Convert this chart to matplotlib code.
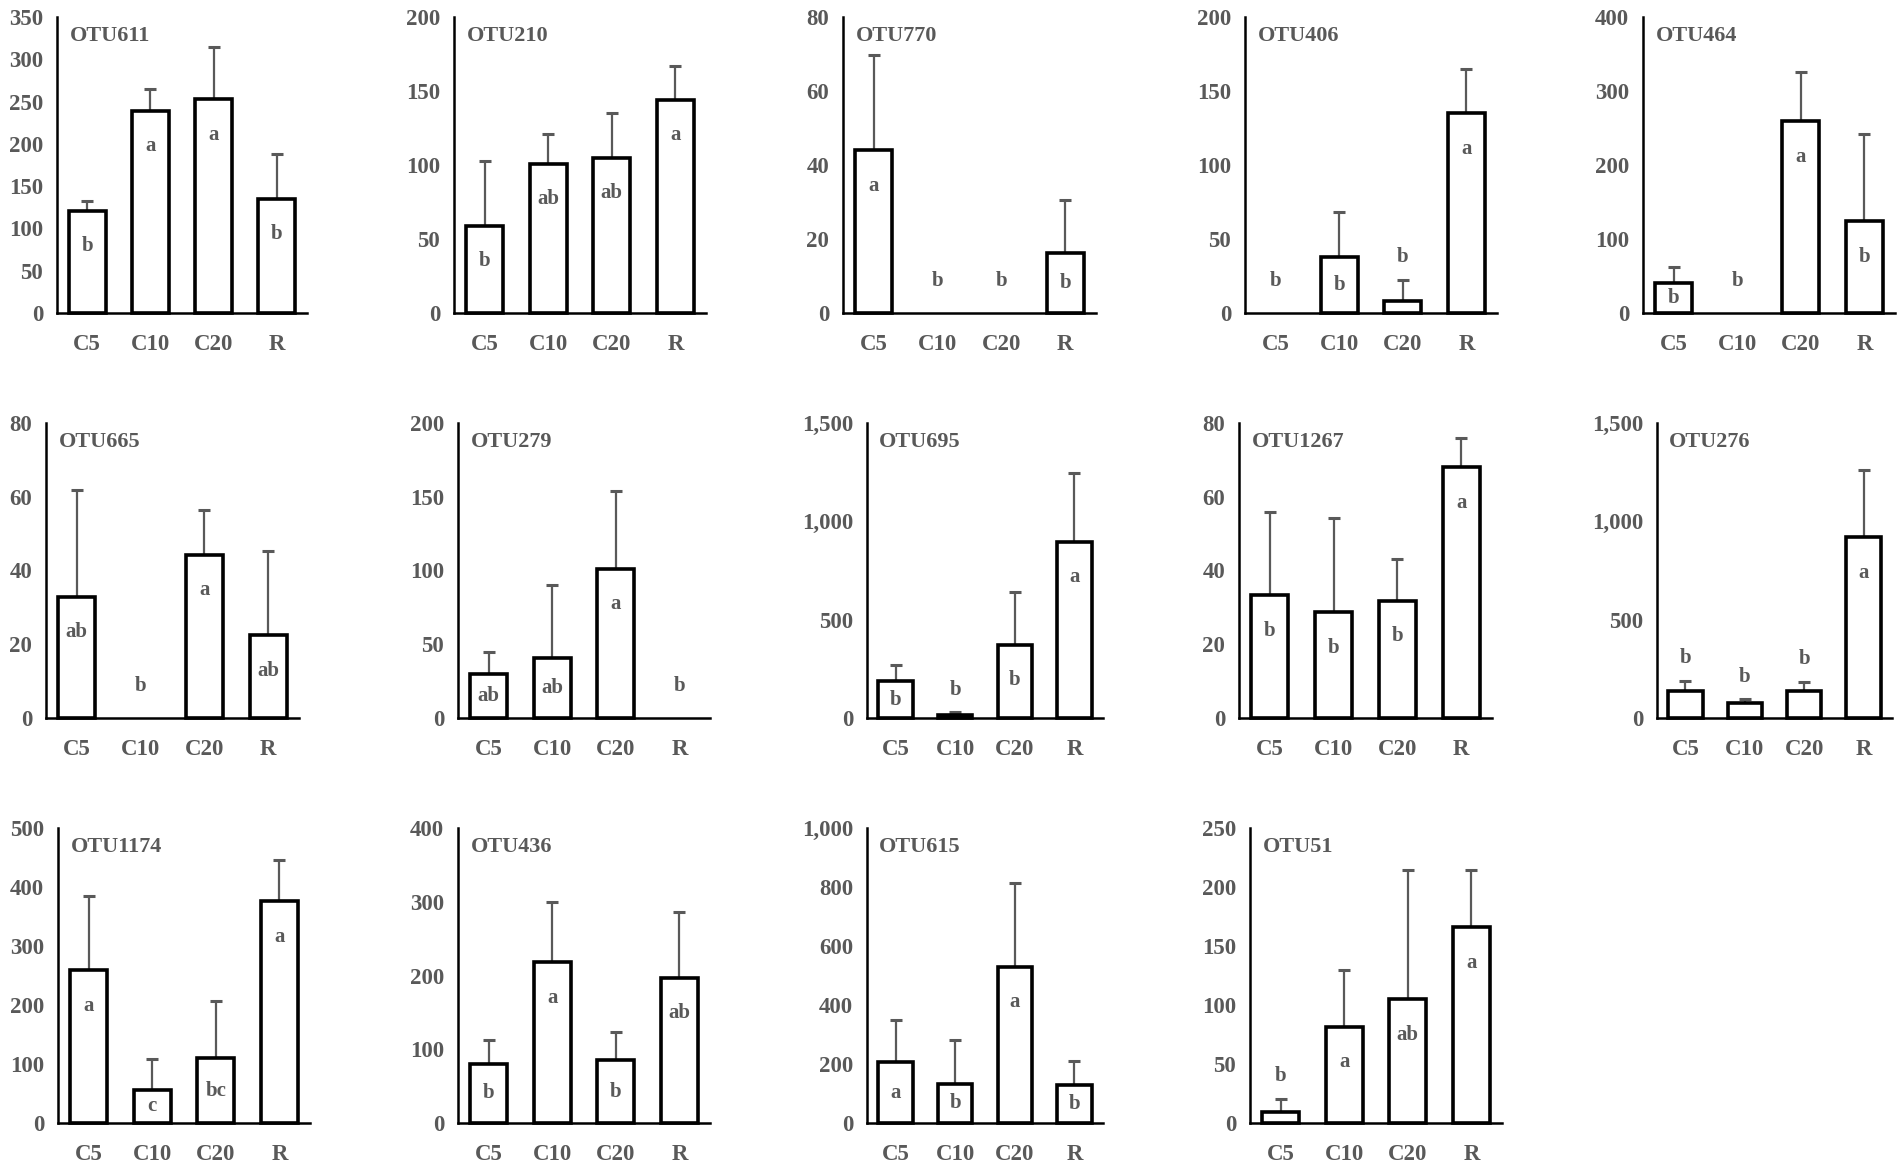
import matplotlib.pyplot as plt
from matplotlib.ticker import MultipleLocator, FuncFormatter

plt.rcParams['font.family'] = ['Liberation Serif', 'DejaVu Serif']
plt.rcParams['font.weight'] = 'bold'

# groups on the x axis
groups = ['C5', 'C10', 'C20', 'R']

# one entry per panel
otu_names = ['OTU611', 'OTU210', 'OTU770', 'OTU406', 'OTU464',
             'OTU665', 'OTU279', 'OTU695', 'OTU1267', 'OTU276',
             'OTU1174', 'OTU436', 'OTU615', 'OTU51']

means = [
    [121, 239, 253, 135],
    [59, 101, 105, 144],
    [44, 0, 0, 16.2],
    [0, 37.8, 7.9, 135],
    [40, 0, 259, 124],
    [32.8, 0, 44.2, 22.4],
    [29.8, 40.5, 101, 0],
    [186, 17, 373, 895],
    [33.3, 28.7, 31.8, 68],
    [139, 76, 136, 919],
    [259, 56.4, 110, 376],
    [80.3, 218, 84.8, 197],
    [206, 133, 530, 128.5],
    [9, 81.7, 105, 166],
]

# upper error (SD) added on top of the mean
errors = [
    [11.5, 25.5, 61.5, 53],
    [44, 20, 30, 23],
    [25.6, 0, 0, 14.4],
    [0, 30.4, 14.6, 30],
    [22, 0, 67, 118],
    [29, 0, 12.1, 23],
    [14.7, 49.5, 52.6, 0],
    [84, 13, 268, 353],
    [22.5, 25.5, 11.4, 7.8],
    [51, 22, 49, 340],
    [125, 51.6, 96, 70],
    [32.4, 82, 39.2, 88.5],
    [142, 150, 283, 81.5],
    [11.6, 47.7, 109.5, 48],
]

letters = [
    ['b', 'a', 'a', 'b'],
    ['b', 'ab', 'ab', 'a'],
    ['a', 'b', 'b', 'b'],
    ['b', 'b', 'b', 'a'],
    ['b', 'b', 'a', 'b'],
    ['ab', 'b', 'a', 'ab'],
    ['ab', 'ab', 'a', 'b'],
    ['b', 'b', 'b', 'a'],
    ['b', 'b', 'b', 'a'],
    ['b', 'b', 'b', 'a'],
    ['a', 'c', 'bc', 'a'],
    ['b', 'a', 'b', 'ab'],
    ['a', 'b', 'a', 'b'],
    ['b', 'a', 'ab', 'a'],
]

y_max = [350, 200, 80, 200, 400, 80, 200, 1500, 80, 1500, 500, 400, 1000, 250]
y_step = [50, 50, 20, 50, 100, 20, 50, 500, 20, 500, 100, 100, 200, 50]

# axes frames in pixels: left, right, y of zero, y of top
W, H = 1902, 1171
frames = [
    (57, 307, 313, 17), (454, 706, 313, 17), (843, 1096, 313, 17),
    (1245, 1497, 313, 17), (1643, 1895, 313, 17),
    (46, 299, 718, 423), (458, 710, 718, 423), (867, 1103, 718, 423),
    (1239, 1492, 718, 423), (1657, 1892, 718, 423),
    (58, 310, 1123, 828), (458, 710, 1123, 828), (867, 1103, 1123, 828),
    (1250, 1502, 1123, 828),
]

grey = '#595959'
fig = plt.figure(figsize=(W / 100, H / 100), dpi=100)

for i, name in enumerate(otu_names):
    left, right, y0, y1 = frames[i]
    ax = fig.add_axes([left / W, 1 - y0 / H, (right - left) / W, (y0 - y1) / H])
    x = list(range(len(groups)))
    vals = means[i]
    errs = errors[i]
    ym = y_max[i]

    # zero-height bars are not drawn, they would only thicken the axis
    shown = [j for j in x if vals[j] > 0]
    ax.bar([x[j] for j in shown], [vals[j] for j in shown], width=0.58,
           color='white', edgecolor='black', linewidth=2.6, zorder=3, clip_on=False)
    ax.errorbar([x[j] for j in shown], [vals[j] for j in shown],
                yerr=[[0] * len(shown), [errs[j] for j in shown]], fmt='none',
                ecolor=grey, elinewidth=1.6, capsize=4, capthick=2.2, zorder=2)

    for j, lab in enumerate(letters[i]):
        v = vals[j]
        if v == 0:
            ax.annotate(lab, (j, 0), xytext=(0, 23), textcoords='offset points',
                        ha='center', va='center', fontsize=15, color=grey)
        elif v < 0.097 * ym:
            ax.annotate(lab, (j, v + errs[j]), xytext=(0, 16), textcoords='offset points',
                        ha='center', va='center', fontsize=15, color=grey)
        else:
            ax.text(j, v - min(0.12 * ym, v / 2), lab, ha='center', va='center',
                    fontsize=15, color=grey, zorder=4)

    ax.text(0.05, 0.935, name, transform=ax.transAxes, ha='left', va='center',
            fontsize=16, color=grey)

    ax.set_xlim(-0.48, 3.48)
    ax.set_ylim(0, ym)
    ax.yaxis.set_major_locator(MultipleLocator(y_step[i]))
    ax.yaxis.set_major_formatter(FuncFormatter(lambda v, p: '{:,.0f}'.format(v)))
    ax.set_xticks(x)
    ax.set_xticklabels(groups)
    ax.tick_params(axis='y', length=0, pad=10, labelsize=16.5, labelcolor=grey)
    ax.tick_params(axis='x', length=0, pad=15, labelsize=16.5, labelcolor=grey)
    for side in ['top', 'right']:
        ax.spines[side].set_visible(False)
    for side in ['left', 'bottom']:
        ax.spines[side].set_linewidth(1.8)
        ax.spines[side].set_color('black')
        ax.spines[side].set_zorder(5)

fig.savefig('out.png', dpi=100, facecolor='white')
